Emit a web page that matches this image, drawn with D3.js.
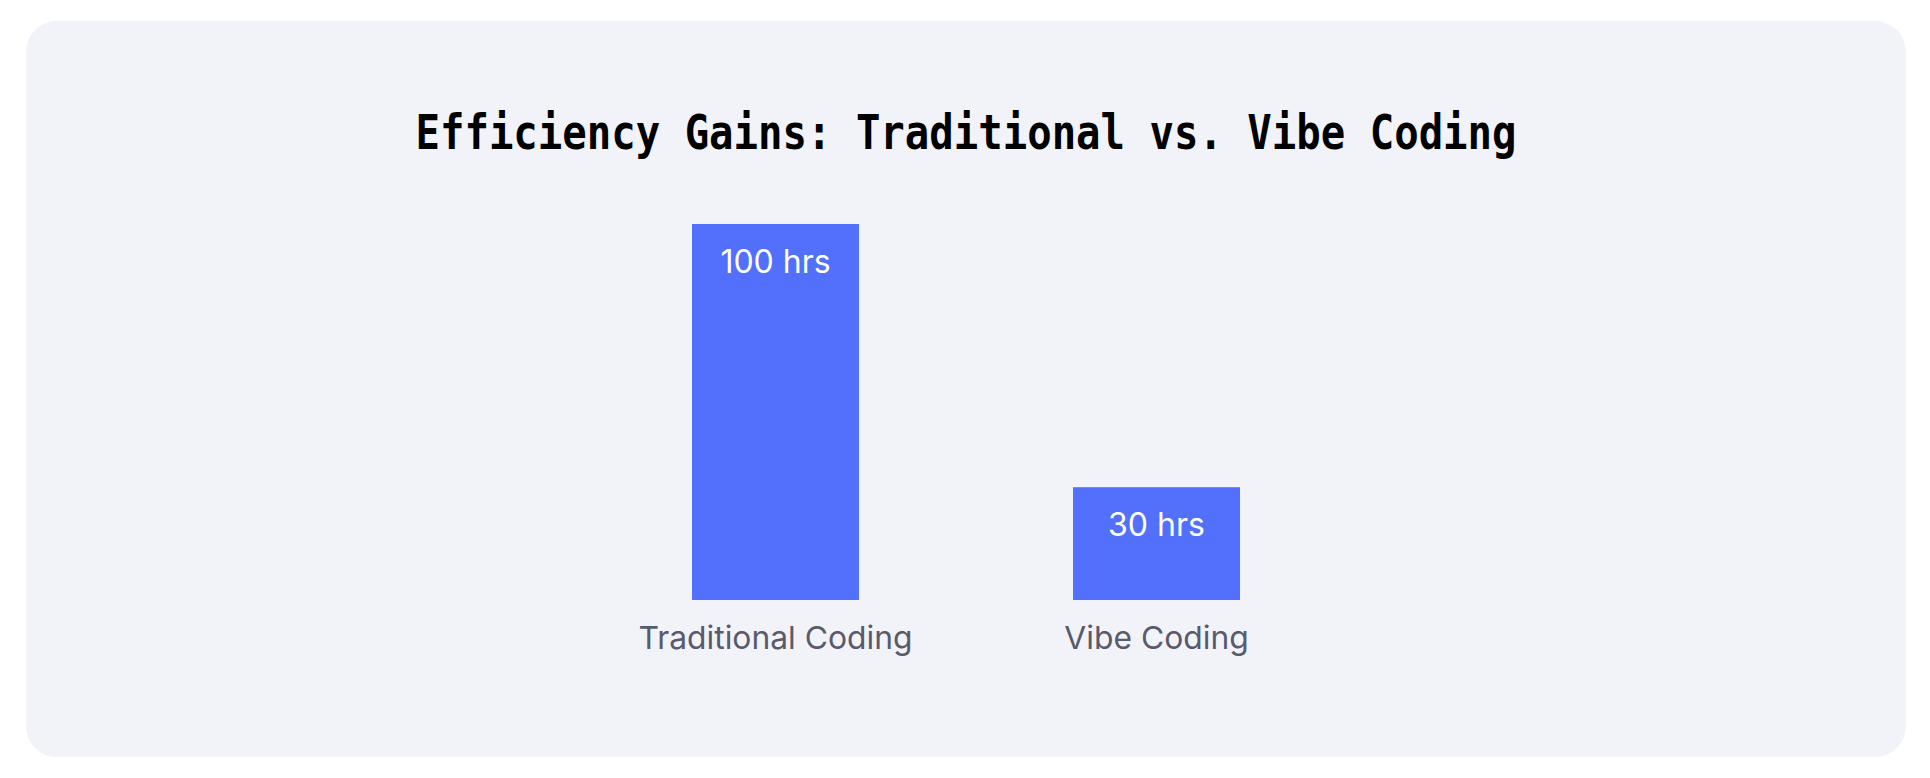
<!DOCTYPE html>
<html>
<head>
<meta charset="utf-8">
<script src="https://cdn.jsdelivr.net/npm/d3@7"></script>
<style>
  html, body { margin: 0; padding: 0; background: #ffffff; }
  svg { display: block; }
</style>
</head>
<body>
<svg id="chart" width="1930" height="778"></svg>
<script>
const title = "Efficiency Gains: Traditional vs. Vibe Coding";
const categories = ["Traditional Coding", "Vibe Coding"];
const hours = [100, 30];
const valueLabels = ["100 hrs", "30 hrs"];

const svg = d3.select("#chart");

// card
svg.append("rect")
  .attr("x", 26).attr("y", 21)
  .attr("width", 1880).attr("height", 736)
  .attr("rx", 31).attr("ry", 31)
  .attr("fill", "#f2f3f8");

// title
svg.append("text")
  .attr("x", 966).attr("y", 148.5)
  .attr("text-anchor", "middle")
  .attr("font-family", "'DejaVu Sans Mono', monospace")
  .attr("font-weight", "bold")
  .attr("font-size", 48)
  .attr("textLength", 1101)
  .attr("lengthAdjust", "spacingAndGlyphs")
  .attr("fill", "#000000")
  .text(title);

const pi = 1 - 167 / 381;
const x = d3.scaleBand()
  .domain(categories)
  .range([692, 1240])
  .paddingInner(pi)
  .paddingOuter(0);

const y = d3.scaleLinear()
  .domain([0, 100])
  .range([600, 224]);

const data = categories.map((c, i) => ({ cat: c, v: hours[i], label: valueLabels[i] }));

svg.selectAll("rect.bar")
  .data(data)
  .join("rect")
  .attr("class", "bar")
  .attr("x", d => x(d.cat))
  .attr("y", d => y(d.v))
  .attr("width", x.bandwidth())
  .attr("height", d => y(0) - y(d.v))
  .attr("fill", "#5270fb");

svg.selectAll("text.val")
  .data(data)
  .join("text")
  .attr("class", "val")
  .attr("x", d => x(d.cat) + x.bandwidth() / 2)
  .attr("y", d => y(d.v) + 49)
  .attr("text-anchor", "middle")
  .attr("font-family", "Inter, 'Noto Sans', sans-serif")
  .attr("font-size", 32)
  .attr("fill", "#ffffff")
  .text(d => d.label);

const xAxis = d3.axisBottom(x).tickSize(0).tickPadding(0);
const gx = svg.append("g")
  .attr("transform", `translate(0,${y(0)})`)
  .call(xAxis);
gx.select(".domain").remove();
gx.selectAll("text")
  .attr("dy", null)
  .attr("y", 48.5)
  .attr("font-family", "Inter, 'Noto Sans', sans-serif")
  .attr("font-size", 31.8)
  .attr("fill", "#595a6c");
</script>
</body>
</html>
